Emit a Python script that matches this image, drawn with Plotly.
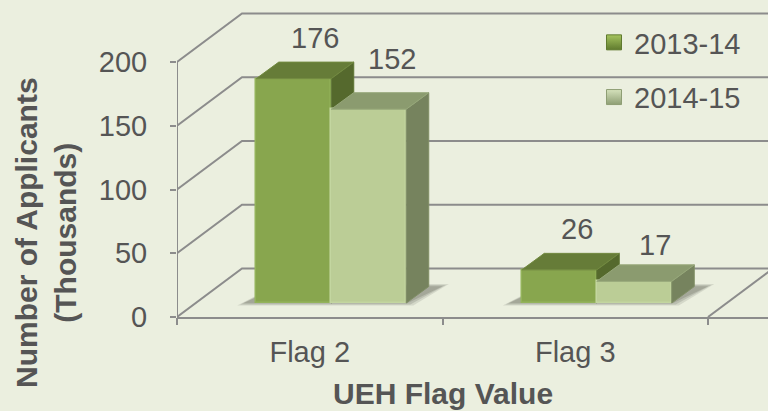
import plotly.graph_objects as go

categories = ["Flag 2", "Flag 3"]
series_names = ["2013-14", "2014-15"]
values_2013 = [176, 26]
values_2014 = [152, 17]
y_ticks = [0, 50, 100, 150, 200]

W, H = 768, 411
X0, Y0 = 177, 317          # front-left floor corner of the chart, px
UX = 265.5                 # px per category
UY = 1.275                 # px per thousand
XMAX = (W - X0) / UX
YMAX = Y0 / UY
px = lambda dx: dx / UX
py = lambda dy: dy / UY
paper_x = lambda p: (p - X0) / (W - X0)
paper_y = lambda p: (Y0 - p) / Y0

WALL_DX, WALL_DY = px(65), py(48.5)    # depth of the box
FRONT_DX, FRONT_DY = px(21.5), py(14)  # how far behind the front edge bars stand
DEPTH_DX, DEPTH_DY = px(22.5), py(16.5)  # depth of a bar
BAR_W = px(75)

BG = "#EBEFDF"
GRID = "#8C8C8C"
TEXT = "#555555"
FONT = "Liberation Sans"
COL = [
    dict(front="#88A64E", edge="#93B35A", top="#667C38", side="#55692D", top_e="#728A40", side_e="#5E7433",
         lo="#5F7A2E", hi="#A5C45E"),
    dict(front="#BBCD96", edge="#C3D6A0", top="#8B9B6F", side="#76835E", top_e="#97A87A", side_e="#808E66",
         lo="#8E9E74", hi="#D5E2BC"),
]

fig = go.Figure()


def line(xs, ys):
    fig.add_trace(go.Scatter(x=xs, y=ys, mode="lines", line=dict(color=GRID, width=2),
                             showlegend=False, hoverinfo="skip", cliponaxis=True))


# Box: y axis, side-wall diagonals, back-wall lines, floor diagonal on the right
line([0, 0], [0, y_ticks[-1]])
for t in y_ticks:
    line([0, WALL_DX, XMAX + 1], [t, t + WALL_DY, t + WALL_DY])
line([2, 2 + WALL_DX], [0, WALL_DY])


def poly(xs, ys, color, axis=None, line_color=None, lw=0):
    fig.add_trace(go.Scatter(
        x=xs + xs[:1], y=ys + ys[:1], mode="lines", fill="toself", fillcolor=color,
        line=dict(color=line_color or color, width=lw), showlegend=False, hoverinfo="skip",
        xaxis=axis[0] if axis else "x", yaxis=axis[1] if axis else "y"))


# Floor shadows, blurred with stacked translucent polygons
for g in range(2):
    left = g + 0.5 + FRONT_DX - BAR_W
    right = g + 0.5 + FRONT_DX + BAR_W
    for grow, alpha in ((7, 0.14), (4, 0.18), (1, 0.22)):
        gx, gy = px(grow), py(grow * 0.35)
        poly([left - px(12) - gx, right + gx, right + DEPTH_DX + px(13) + gx, left + DEPTH_DX],
             [FRONT_DY - gy, FRONT_DY - gy, FRONT_DY + DEPTH_DY + gy, FRONT_DY + DEPTH_DY + gy],
             f"rgba(80,80,70,{alpha})")

# Bars, one overlaid subplot per series so the nearer series hides the other's side
for s, vals in enumerate([values_2013, values_2014]):
    ax = ("x2", "y2") if s == 0 else ("x3", "y3")
    c = COL[s]
    sign = -0.5 if s == 0 else 0.5
    xc = [g + 0.5 + FRONT_DX + sign * BAR_W for g in range(len(vals))]
    fig.add_trace(go.Bar(x=xc, y=vals, base=[FRONT_DY] * len(vals), width=BAR_W, name=series_names[s],
                         marker=dict(color=c["front"], line=dict(color=c["edge"], width=1.5)),
                         showlegend=False, xaxis=ax[0], yaxis=ax[1]))
    for x, v in zip(xc, vals):
        l, r = x - BAR_W / 2, x + BAR_W / 2
        t = v + FRONT_DY
        poly([r, r + DEPTH_DX, r + DEPTH_DX, r], [FRONT_DY, FRONT_DY + DEPTH_DY, t + DEPTH_DY, t],
             c["side"], ax, c["side_e"], 1)
        poly([l, r, r + DEPTH_DX, l + DEPTH_DX], [t, t, t + DEPTH_DY, t + DEPTH_DY],
             c["top"], ax, c["top_e"], 1)
    # legend key
    fig.add_trace(go.Scatter(x=[None], y=[None], mode="markers", name=series_names[s], legendgroup=series_names[s],
                             marker=dict(symbol="square", size=15, color=c["hi"],
                                         gradient=dict(type="vertical", color=c["lo"]),
                                         line=dict(color=c["lo"], width=1)),
                             xaxis=ax[0], yaxis=ax[1]))

# Value labels: hand-placed as in the reference
label_shift = [[(21, 24), (18, 24)], [(23, 34), (21, 20)]]
for s, vals in enumerate([values_2013, values_2014]):
    sign = -0.5 if s == 0 else 0.5
    for g, v in enumerate(vals):
        dx, dy = label_shift[s][g]
        fig.add_annotation(x=g + 0.5 + FRONT_DX + sign * BAR_W, y=v + FRONT_DY + DEPTH_DY, text=str(v),
                           xref="x", yref="y", xshift=dx, yshift=dy, showarrow=False,
                           font=dict(family=FONT, size=29, color=TEXT))

axis_font = dict(family=FONT, size=29, color=TEXT)
base_x = dict(range=[0, XMAX], showgrid=False, zeroline=False)
base_y = dict(range=[0, YMAX], showgrid=False, zeroline=False)
hidden = dict(visible=False)

fig.update_layout(
    width=W, height=H, margin=dict(l=X0, r=0, t=0, b=H - Y0),
    paper_bgcolor=BG, plot_bgcolor=BG, bargap=0, barmode="overlay",
    font=dict(family=FONT, size=29, color=TEXT),
    xaxis=dict(**base_x, showline=False, tickvals=[0, 1, 2], ticktext=["", "", ""], ticks="outside",
               ticklen=7, tickwidth=2, tickcolor=GRID),
    yaxis=dict(**base_y, showline=False, tickvals=y_ticks, ticks="outside", ticklen=6, tickwidth=2,
               tickcolor=GRID, tickfont=axis_font, ticklabelstandoff=17),
    xaxis2=dict(**base_x, overlaying="x", anchor="y2", side="bottom", tickvals=[0.5, 1.5], ticktext=categories,
                tickfont=axis_font, ticks="", ticklabelstandoff=8, showline=True, linecolor=GRID, linewidth=2),
    yaxis2=dict(**base_y, **hidden, overlaying="y", anchor="x2"),
    xaxis3=dict(**base_x, **hidden, overlaying="x", anchor="y3"),
    yaxis3=dict(**base_y, **hidden, overlaying="y", anchor="x3"),
    legend=dict(x=paper_x(594), y=paper_y(17), xanchor="left", yanchor="top", bgcolor="rgba(0,0,0,0)",
                font=dict(family=FONT, size=29, color=TEXT), tracegroupgap=14, itemwidth=30,
                itemsizing="trace"),
)
fig.add_annotation(x=paper_x(443), y=paper_y(393), xref="paper", yref="paper", text="<b>UEH Flag Value</b>",
                   xanchor="center", yanchor="middle",
                   showarrow=False, font=dict(family=FONT, size=30, color=TEXT))
fig.add_annotation(x=paper_x(46), y=paper_y(233), xref="paper", yref="paper",
                   text="<b>Number of Applicants<br>(Thousands)</b>", textangle=-90,
                   xanchor="center", yanchor="middle",
                   showarrow=False, font=dict(family=FONT, size=30, color=TEXT))

fig.write_html("out.html", config=dict(displayModeBar=False),
               post_script="document.body.style.margin='0';document.documentElement.style.overflow='hidden';")
